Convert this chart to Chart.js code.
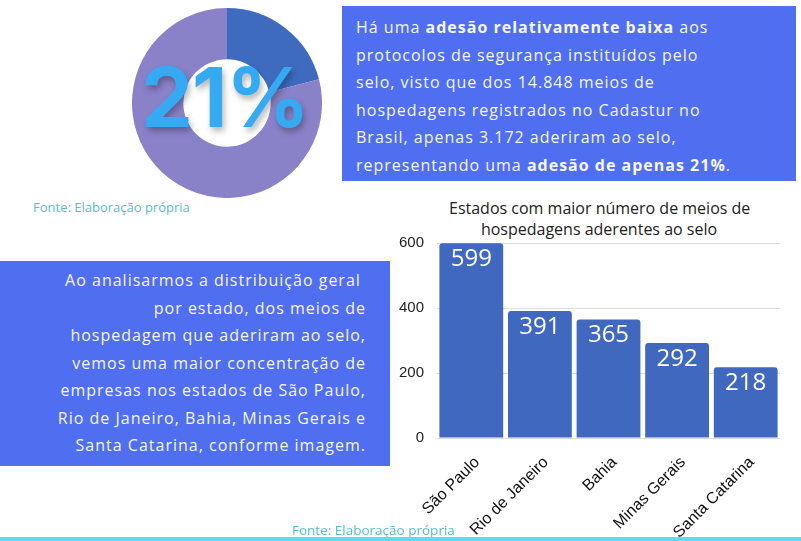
<!DOCTYPE html>
<html>
<head>
<meta charset="utf-8">
<script src="https://cdn.jsdelivr.net/npm/chart.js@4.4.0/dist/chart.umd.min.js"></script>
<style>
  html, body { margin: 0; padding: 0; background: #fff; }
  body { width: 801px; height: 541px; position: relative; overflow: hidden; font-family: "Open Sans", sans-serif; }
  .box { position: absolute; background: #4f6ef0; color: #f6f6f6; font-size: 16px; letter-spacing: 1px; line-height: 27.5px; }
  #boxTop { left: 342px; top: 6px; width: 454px; height: 175px; }
  #boxTop p { margin: 0; position: absolute; left: 14px; top: 8px; white-space: nowrap; }
  #boxLeft { left: 0; top: 261px; width: 390px; height: 205px; }
  #boxLeft p { margin: 0; position: absolute; right: 24px; top: 6px; text-align: right; white-space: nowrap; }
  .fonte { position: absolute; color: #5bbccf; font-size: 13px; white-space: nowrap; }
  #big { position: absolute; left: 125px; top: 48px; width: 200px; text-align: center; font-family: Inter, sans-serif; font-weight: 700;
         font-size: 82px; line-height: 100px; color: #35aaf3; letter-spacing: -1px; text-shadow: 2px 4px 6px rgba(0,0,0,0.3); }
  #titulo { position: absolute; left: 449px; top: 198px; width: 300px; text-align: center; color: #222; font-size: 16px; line-height: 21.3px; white-space: nowrap; }
  #line { position: absolute; left: 0; top: 537px; width: 801px; height: 4px; background: #62dae7; }
</style>
</head>
<body>
<div id="donutWrap" style="position:absolute;left:132px;top:8px;width:190px;height:190px;"><canvas id="donut"></canvas></div>
<div id="big">21%</div>
<div class="fonte" style="left:33px;top:198px;">Fonte: Elaboração própria</div>

<div class="box" id="boxTop"><p>Há uma <b>adesão relativamente baixa</b> aos<br>protocolos de segurança instituídos pelo<br>selo, visto que dos 14.848 meios de<br>hospedagens registrados no Cadastur no<br>Brasil, apenas 3.172 aderiram ao selo,<br>representando uma <b>adesão de apenas 21%</b>.</p></div>

<div class="box" id="boxLeft"><p>Ao analisarmos a distribuição geral&nbsp;<br>por estado, dos meios de<br>hospedagem que aderiram ao selo,<br>vemos uma maior concentração de<br>empresas nos estados de São Paulo,<br>Rio de Janeiro, Bahia, Minas Gerais e<br>Santa Catarina, conforme imagem.</p></div>

<div id="titulo">Estados com maior número de meios de<br>hospedagens aderentes ao selo</div>
<div id="barWrap" style="position:absolute;left:390px;top:221px;width:411px;height:320px;"><canvas id="bars"></canvas></div>
<div class="fonte" style="left:292px;top:521px;font-size:13.5px;">Fonte: Elaboração própria</div>
<div id="line"></div>

<script>
// adesão ao selo (%)
const adesaoLabels = ['Aderiram', 'Não aderiram'];
const adesaoValues = [21, 79];

// estados com mais meios de hospedagem aderentes
const estados = ['São Paulo', 'Rio de Janeiro', 'Bahia', 'Minas Gerais', 'Santa Catarina'];
const aderentes = [599, 391, 365, 292, 218];
const yTicks = [0, 200, 400, 600];

new Chart(document.getElementById('donut'), {
    type: 'doughnut',
    data: {
        labels: adesaoLabels,
        datasets: [{
            data: adesaoValues,
            backgroundColor: ['#3f6bbf', '#8a82c9'],
            borderWidth: 0,
        }],
    },
    options: {
        responsive: true,
        maintainAspectRatio: false,
        animation: false,
        cutout: '46%',
        plugins: { legend: { display: false }, tooltip: { enabled: false } },
    },
});

// rótulos brancos dentro das barras
const valorNaBarra = {
    id: 'valorNaBarra',
    afterDatasetsDraw(chart) {
        const ctx = chart.ctx;
        const meta = chart.getDatasetMeta(0);
        ctx.save();
        ctx.fillStyle = '#ffffff';
        ctx.font = '24px "Open Sans"';
        ctx.textAlign = 'center';
        ctx.textBaseline = 'middle';
        meta.data.forEach((bar, i) => {
            ctx.fillText(String(chart.data.datasets[0].data[i]), bar.x, bar.y + 16);
        });
        ctx.restore();
    },
};

new Chart(document.getElementById('bars'), {
    type: 'bar',
    data: {
        labels: estados,
        datasets: [{
            data: aderentes,
            backgroundColor: '#4068bf',
            barPercentage: 0.93,
            categoryPercentage: 1,
            borderRadius: { topLeft: 3, topRight: 3 },
            borderSkipped: 'bottom',
        }],
    },
    plugins: [valorNaBarra],
    options: {
        responsive: true,
        maintainAspectRatio: false,
        animation: false,
        layout: { padding: { left: 0, right: 21, top: 0, bottom: 0 } },
        plugins: {
            legend: { display: false },
            tooltip: { enabled: false },
            title: { display: false },
        },
        scales: {
            y: {
                min: 0,
                max: 600,
                afterBuildTicks(scale) { scale.ticks = yTicks.map(v => ({ value: v })); },
                afterFit(scale) { scale.width = 47; },
                grid: { color: '#dcdcdc', drawTicks: false },
                border: { display: false },
                ticks: { color: '#222', padding: 13, font: { family: 'Liberation Sans', size: 15 } },
            },
            x: {
                afterFit(scale) { scale.height = 103; },
                grid: { display: false },
                border: { display: false },
                ticks: { color: '#111', minRotation: 45, maxRotation: 45, padding: 7, labelOffset: 6,
                         font: { family: 'Liberation Sans', size: 16 } },
            },
        },
    },
});
</script>
</body>
</html>
